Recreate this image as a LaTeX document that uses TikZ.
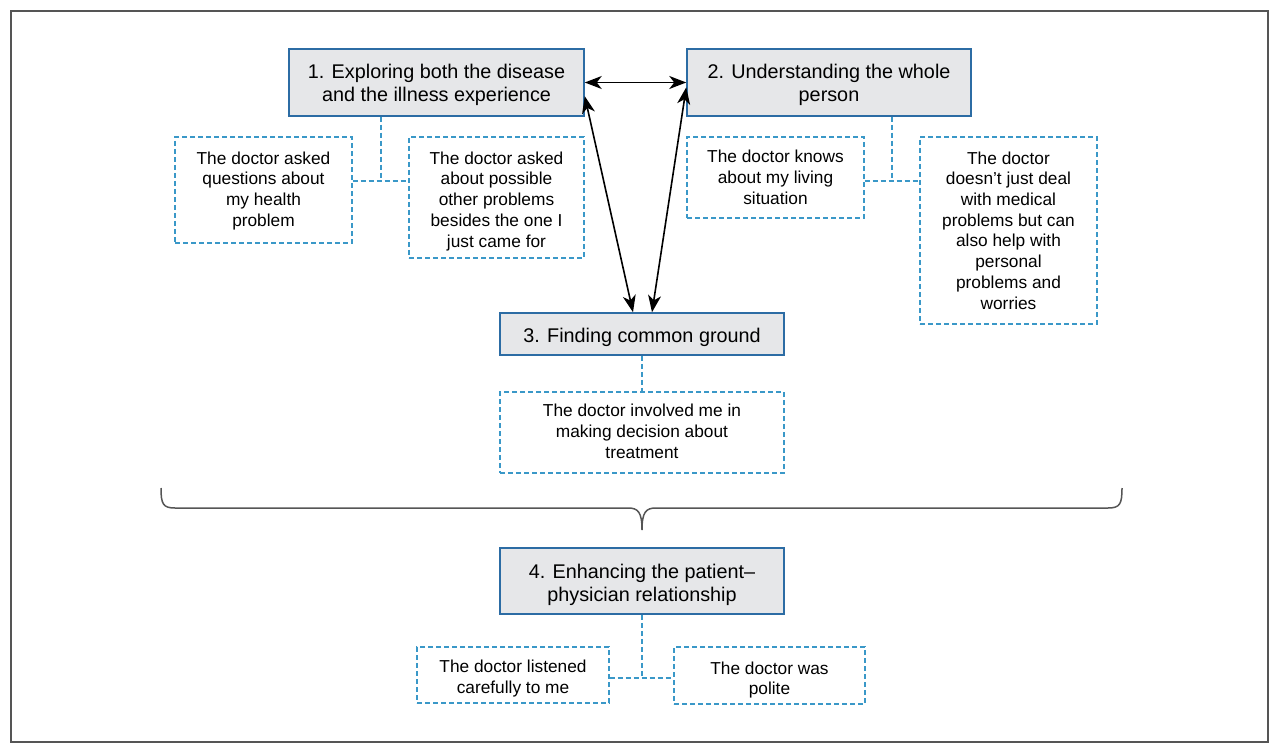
\documentclass[tikz,border=0pt]{standalone}
\usepackage{fontspec}
\setmainfont{Liberation Sans}
\usetikzlibrary{arrows.meta,calc}
\definecolor{boxfill}{HTML}{E6E7E9}
\definecolor{boxedge}{HTML}{2C6CA4}
\definecolor{dashblue}{HTML}{3A98C8}
\definecolor{framegray}{HTML}{555555}
\newcommand{\lowertext}[2][3pt]{\raisebox{-#1}[\height][\depth]{\begin{tabular}{@{}c@{}}#2\end{tabular}}}
\tikzset{
  mainbox/.style={draw=boxedge, fill=boxfill, line width=1.5pt, inner sep=0pt, align=center,
    font=\fontsize{19.8}{23}\selectfont},
  itembox/.style={draw=dashblue, line width=1.3pt, dash pattern=on 5pt off 3pt, inner sep=0pt, align=center,
    font=\fontsize{17.3}{20.7}\selectfont},
  dconn/.style={draw=dashblue, line width=1.3pt, dash pattern=on 5pt off 3pt},
  darrow/.style={line width=1.6pt, <->, >={Stealth[length=17pt,width=13pt,inset=5pt]}},
  bracestyle/.style={draw=framegray, line width=1.5pt},
}
\begin{document}
\begin{tikzpicture}[x=1pt,y=-1pt]
\useasboundingbox (0,0) rectangle (1280,754);
\draw[framegray, line width=1.5pt] (11,11) rectangle (1268,742);

% main boxes
\node[mainbox, minimum width=295pt, minimum height=67pt] (b1) at (436.5,82.5) {\lowertext{1. Exploring both the disease\\and the illness experience}};
\node[mainbox, minimum width=284pt, minimum height=67pt] (b2) at (829,82.5) {\lowertext{2. Understanding the whole\\person}};
\node[mainbox, minimum width=284pt, minimum height=42pt] (b3) at (642,334) {\lowertext[4pt]{3. Finding common ground}};
\node[mainbox, minimum width=284pt, minimum height=66pt] (b4) at (642,581) {\lowertext[4pt]{4. Enhancing the patient–\\physician relationship}};

% item boxes
\node[itembox, minimum width=177pt, minimum height=106pt] (a1) at (263.5,190) {\lowertext[1pt]{The doctor asked\\questions about\\my health\\problem}};
\node[itembox, minimum width=175pt, minimum height=121pt] (a2) at (496.5,197.5) {\lowertext[4pt]{The doctor asked\\about possible\\other problems\\besides the one I\\just came for}};
\node[itembox, minimum width=177pt, minimum height=81pt] (c1b) at (775.5,177.5) {\lowertext[2pt]{The doctor knows\\about my living\\situation}};
\node[itembox, minimum width=177pt, minimum height=187pt] (c2b) at (1008.5,230.5) {\lowertext[2pt]{The doctor\\doesn’t just deal\\with medical\\problems but can\\also help with\\personal\\problems and\\worries}};
\node[itembox, minimum width=284pt, minimum height=81pt] (t1) at (642,432.5) {\lowertext[1pt]{The doctor involved me in\\making decision about\\treatment}};
\node[itembox, minimum width=192pt, minimum height=56pt] (d1) at (513,675) {\lowertext[4pt]{The doctor listened\\carefully to me}};
\node[itembox, minimum width=191pt, minimum height=57pt] (d2) at (769.5,675.5) {\lowertext[5pt]{The doctor was\\polite}};

% junction coordinates
\coordinate (j1) at (381,181);
\coordinate (j2) at (892,181);
\coordinate (j4) at (642,678);

% dashed connectors
\draw[dconn] (b1.south -| j1) -- (j1);
\draw[dconn] (a1.east |- j1) -- (a2.west |- j1);
\draw[dconn] (b2.south -| j2) -- (j2);
\draw[dconn] (c1b.east |- j2) -- (c2b.west |- j2);
\draw[dconn] (b3.south) -- (t1.north);
\draw[dconn] (b4.south) -- (j4);
\draw[dconn] (d1.east |- j4) -- (d2.west |- j4);

% arrows
\draw[darrow] (b1.east) -- (b2.west);
\draw[darrow] ($(b1.north east)!0.7!(b1.south east)$) -- ($(b3.north)+(-9,0)$);
\draw[darrow] ($(b2.north west)!0.57!(b2.south west)$) -- ($(b3.north)+(10,0)$);

% brace
\draw[bracestyle] (161,488) .. controls (161,504) and (163,508) .. (175,508) -- (628,508)
  .. controls (638,508) and (642,512) .. (642,530)
  .. controls (642,512) and (646,508) .. (656,508) -- (1108,508)
  .. controls (1120,508) and (1122,504) .. (1122,488);
\end{tikzpicture}
\end{document}
